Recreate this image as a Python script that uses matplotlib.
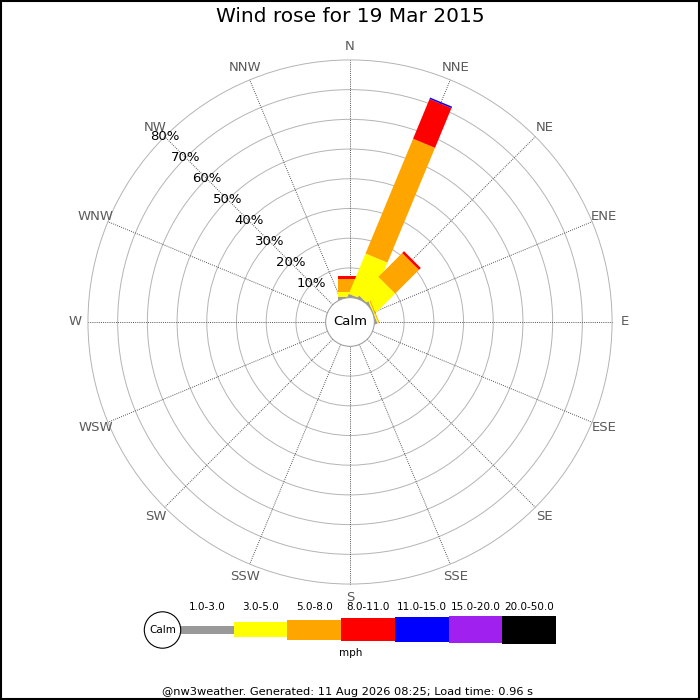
import numpy as np
import matplotlib
matplotlib.use('Agg')
import matplotlib.pyplot as plt
from matplotlib.patches import Polygon, Circle, Rectangle

# 16 compass directions, clockwise from north
directions = ['N', 'NNE', 'NE', 'ENE', 'E', 'ESE', 'SE', 'SSE',
              'S', 'SSW', 'SW', 'WSW', 'W', 'WNW', 'NW', 'NNW']
speed_bins = ['1.0-3.0', '3.0-5.0', '5.0-8.0', '8.0-11.0',
              '11.0-15.0', '15.0-20.0', '20.0-50.0']
bin_colors = ['#999999', '#ffff00', '#ffa500', '#ff0000',
              '#0000ff', '#a020f0', '#000000']

# frequency (%) per direction for each speed bin (mph)
freq_1_3 = [0.3, 0.4, 0.3, 0.2, 0, 0, 0, 0, 0, 0, 0, 0, 0, 0, 0, 0]
freq_3_5 = [1.7, 14.7, 9.0, 0.4, 0, 0, 0, 0, 0, 0, 0, 0, 0, 0, 0, 0]
freq_5_8 = [4.2, 41.8, 11.3, 0.3, 0, 0, 0, 0, 0, 0, 0, 0, 0, 0, 0, 0]
freq_8_11 = [1.0, 14.5, 0.9, 0, 0, 0, 0, 0, 0, 0, 0, 0, 0, 0, 0, 0]
freq_11_15 = [0, 0.5, 0, 0, 0, 0, 0, 0, 0, 0, 0, 0, 0, 0, 0, 0]
freq_15_20 = [0] * 16
freq_20_50 = [0] * 16

ring_levels = [10, 20, 30, 40, 50, 60, 70, 80]
title = 'Wind rose for 19 Mar 2015'
footer = '@nw3weather. Generated: 11 Aug 2026 08:25; Load time: 0.96 s'

freqs = np.array([freq_1_3, freq_3_5, freq_5_8, freq_8_11,
                  freq_11_15, freq_15_20, freq_20_50])

calm_r = 8.2      # radius of calm circle in % units
bar_w = 8.0       # constant bar width
r_max = ring_levels[-1] + calm_r

fig = plt.figure(figsize=(7, 7), dpi=100)

# pixel-space axes for the legend and footer
lax = fig.add_axes([0, 0, 1, 1])
lax.set_xlim(0, 700)
lax.set_ylim(700, 0)
lax.axis('off')

ax = fig.add_axes([0.07557, 0.11557, 0.8489, 0.8489])
ax.set_xlim(-100, 100)
ax.set_ylim(-100, 100)
ax.set_aspect('equal')
ax.axis('off')

# rings and spokes
for lev in ring_levels:
    ax.add_patch(Circle((0, 0), calm_r + lev, fill=False, ec='#b4b4b4', lw=0.7, zorder=1))
angles = np.deg2rad(np.arange(16) * 22.5)
for th, name in zip(angles, directions):
    ax.plot([calm_r * np.sin(th), r_max * np.sin(th)],
            [calm_r * np.cos(th), r_max * np.cos(th)],
            ls=(0, (1, 1.2)), color='#555555', lw=0.7, zorder=1)
    ax.text(92.6 * np.sin(th), 92.6 * np.cos(th), name, ha='center', va='center',
            fontsize=9.5, color='#5a5a5a')

# ring labels along NW spoke
nw = np.deg2rad(315)
for lev in ring_levels:
    rr = calm_r + lev
    ax.text(rr * np.sin(nw), rr * np.cos(nw), f'{lev}%', ha='center', va='center',
            fontsize=9.5, color='black', zorder=5)

# bars: constant-width rectangles stacked outward
for i, th in enumerate(angles):
    u = np.array([np.sin(th), np.cos(th)])
    v = np.array([np.cos(th), -np.sin(th)])
    start = 0.0
    cum = calm_r
    for j in range(len(speed_bins)):
        val = freqs[j, i]
        if val <= 0:
            continue
        end = cum + val
        pts = [start * u + v * bar_w / 2, end * u + v * bar_w / 2,
               end * u - v * bar_w / 2, start * u - v * bar_w / 2]
        ax.add_patch(Polygon(pts, closed=True, fc=bin_colors[j], ec='none', zorder=2))
        start = end
        cum = end

# calm circle
ax.add_patch(Circle((0, 0), calm_r, fc='white', ec='#a0a0a0', lw=0.8, zorder=3))
ax.text(0, 0, 'Calm', ha='center', va='center', fontsize=9.5, zorder=4)

# legend
leg_x0 = 180
leg_w = 53.7
leg_heights = [8, 15, 20, 23, 25, 27, 28]
leg_cy = 629.5
for j, (lab, col) in enumerate(zip(speed_bins, bin_colors)):
    x = leg_x0 + j * leg_w
    h = leg_heights[j]
    lax.add_patch(Rectangle((x, leg_cy - h / 2), leg_w, h, fc=col, ec='none'))
    lax.text(x + leg_w / 2, 606.5, lab, ha='center', va='center', fontsize=7.5)
lax.add_patch(Circle((162.5, 630), 18.2, fc='white', ec='black', lw=0.8))
lax.text(162.5, 630, 'Calm', ha='center', va='center', fontsize=7.5)
lax.text(350.5, 653.5, 'mph', ha='center', va='center', fontsize=7.5)
lax.text(348, 692, footer, ha='center', va='center', fontsize=8.2)

fig.text(0.5, 1 - 17 / 700, title, ha='center', va='center', fontsize=14.5)

# image border
fig.patches.append(Rectangle((0.001, 0.001), 0.997, 0.997, transform=fig.transFigure,
                             fill=False, ec='black', lw=1.5))

fig.savefig('out.png', dpi=100)
